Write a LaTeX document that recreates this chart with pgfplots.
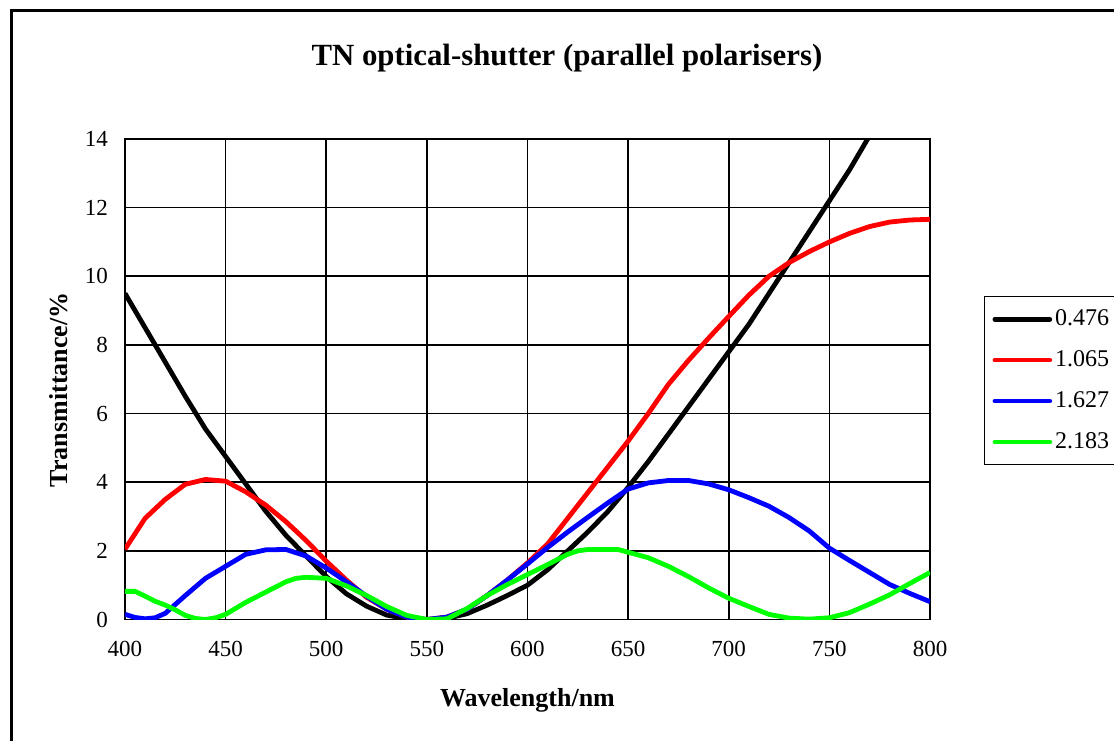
\documentclass[border=0pt]{standalone}
\usepackage{pgfplots}
\pgfplotsset{compat=1.18}
\usepackage{pgfplotstable}
\usepackage{fontspec}
\setmainfont{Liberation Serif}

% wavelength (nm) vs transmittance (%)
\pgfplotstableread{
x y
400 9.5
410 8.5
420 7.5
430 6.5
440 5.55
450 4.75
460 3.95
470 3.15
480 2.45
490 1.85
500 1.25
510 0.75
520 0.39
530 0.13
540 0.02
550 0
560 0.03
570 0.17
580 0.42
590 0.7
600 1.0
610 1.45
620 2.0
630 2.55
640 3.15
650 3.85
660 4.6
670 5.4
680 6.2
690 7.0
700 7.8
710 8.6
720 9.5
730 10.4
740 11.3
750 12.2
760 13.1
770 14.1
780 15.0
}\tblA
\pgfplotstableread{
x y
400 2.05
410 2.95
420 3.5
430 3.94
440 4.08
450 4.03
460 3.72
470 3.33
480 2.85
490 2.3
500 1.7
510 1.15
520 0.65
530 0.3
540 0.07
550 0
560 0.07
570 0.3
580 0.7
590 1.15
600 1.65
610 2.2
620 2.95
630 3.7
640 4.45
650 5.2
660 6.0
670 6.85
680 7.55
690 8.2
700 8.83
710 9.45
720 10.0
730 10.4
740 10.72
750 11.0
760 11.25
770 11.45
780 11.58
790 11.64
800 11.66
}\tblB
\pgfplotstableread{
x y
400 0.15
405 0.06
410 0.02
415 0.05
420 0.18
430 0.7
440 1.2
450 1.55
460 1.9
470 2.03
480 2.04
490 1.85
500 1.5
510 1.1
520 0.68
530 0.3
540 0.07
550 0
560 0.07
570 0.3
580 0.7
590 1.15
600 1.62
610 2.1
620 2.55
630 2.98
640 3.4
650 3.8
660 3.98
670 4.05
680 4.05
690 3.95
700 3.78
710 3.55
720 3.3
730 2.97
740 2.58
750 2.08
760 1.72
770 1.37
780 1.02
790 0.76
800 0.52
}\tblC
\pgfplotstableread{
x y
400 0.82
405 0.82
410 0.68
415 0.53
420 0.42
425 0.28
430 0.12
435 0.03
440 0
445 0.05
450 0.15
460 0.5
470 0.8
480 1.1
485 1.2
490 1.23
500 1.2
510 0.98
520 0.7
530 0.38
540 0.12
550 0
560 0.02
570 0.32
580 0.7
590 1.02
600 1.31
610 1.6
620 1.9
625 2.0
630 2.04
640 2.04
645 2.04
650 1.96
660 1.8
670 1.55
680 1.25
690 0.92
700 0.62
710 0.38
720 0.15
730 0.04
740 0.01
750 0.05
760 0.2
770 0.45
780 0.72
790 1.05
800 1.37
}\tblD

\begin{document}
\begin{tikzpicture}
\useasboundingbox (0,0) rectangle (557pt,370pt);
\draw[line width=1.8pt] (5.7pt,-20pt) -- (5.7pt,364.8pt) -- (600pt,364.8pt);
\begin{axis}[
  at={(62.5pt,60.25pt)}, anchor=south west,
  width=402.5pt, height=240.25pt, scale only axis,
  xmin=400, xmax=800, ymin=0, ymax=14,
  xtick={400,450,...,800}, ytick={0,2,...,14},
  grid=major, major grid style={black, line width=0.8pt},
  axis line style={black, line width=0.9pt},
  major tick length=0pt,
  /pgf/number format/assume math mode=true,
  ticklabel style={font=\fontsize{11.5}{13}\selectfont},
  xticklabel style={yshift=-7.5pt},
  yticklabel style={xshift=-5pt},
  every axis title shift=0pt,
  title={TN optical-shutter (parallel polarisers)},
  title style={font=\bfseries\fontsize{15.4}{18}\selectfont, at={(rel axis cs:0.549,1.168)}, anchor=center},
  xlabel={Wavelength/nm},
  xlabel style={font=\bfseries\fontsize{13}{15}\selectfont, at={(rel axis cs:0.5,-0.168)}, anchor=center},
  ylabel={Transmittance/\%},
  ylabel style={font=\bfseries\fontsize{13}{15}\selectfont, at={(rel axis cs:-0.083,0.478)}, anchor=center},
  legend style={at={(rel axis cs:1.067,0.673)}, anchor=north west,
    draw=black, line width=0.6pt, fill=white,
    font=\fontsize{12}{14}\selectfont,
    inner xsep=4pt, inner ysep=6.5pt, row sep=11pt,
    nodes={inner sep=0pt},
    /tikz/every odd column/.append style={column sep=1.5pt}},
  legend cell align=left,
  legend image code/.code={\draw[#1, line width=2.3pt, line cap=round] (0pt,0pt) -- (27.5pt,0pt);},
  every axis plot/.append style={line width=2.4pt, line join=round},
  clip=true,
]
\addplot[black] table {\tblA};
\addplot[red] table {\tblB};
\addplot[blue] table {\tblC};
\addplot[green] table {\tblD};
\legend{0.476,1.065,1.627,2.183}
\end{axis}
\end{tikzpicture}
\end{document}
